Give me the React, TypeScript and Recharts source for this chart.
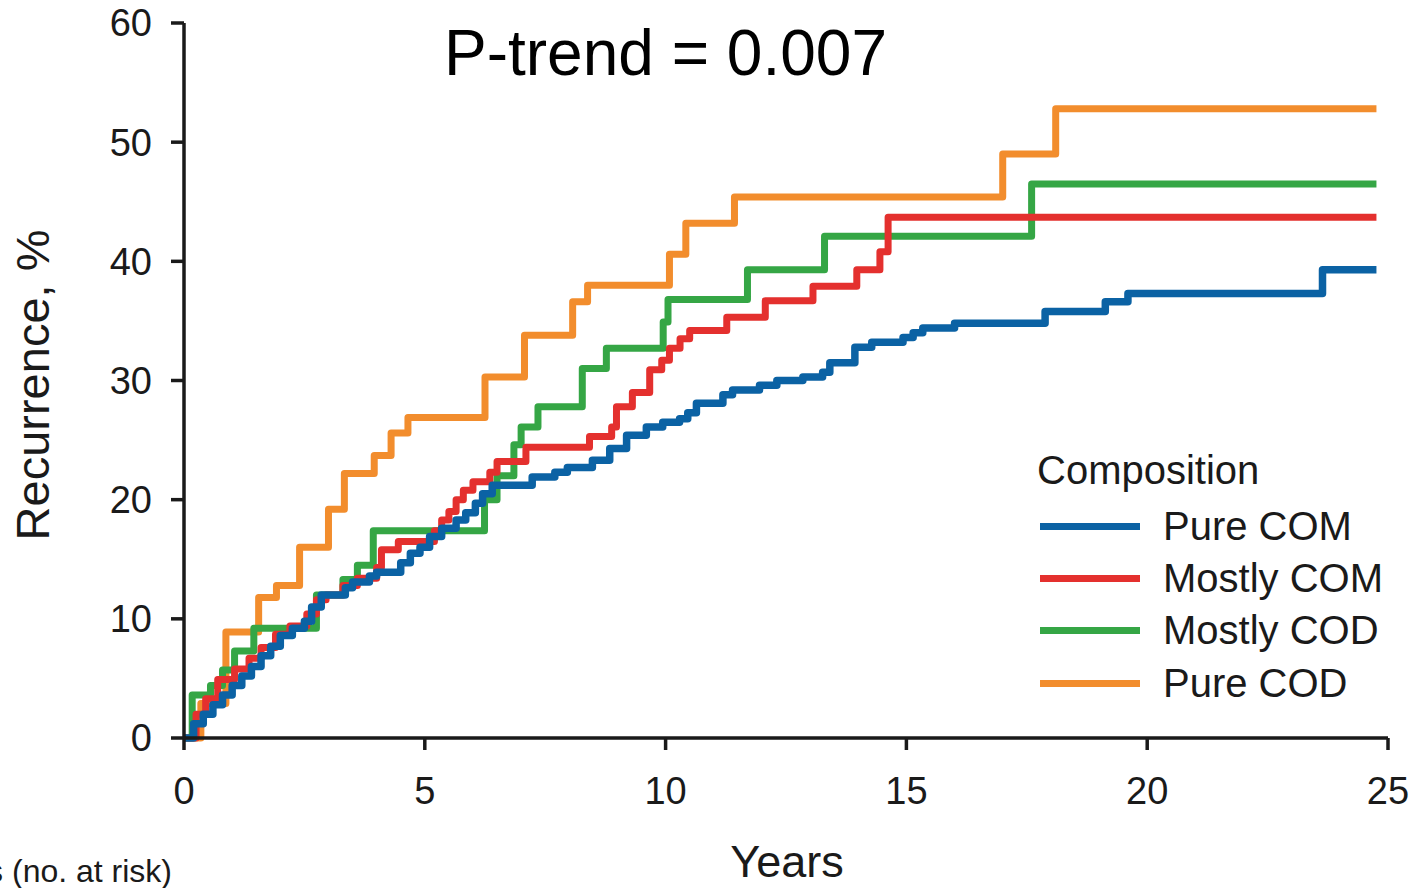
import { Legend, Line, LineChart, XAxis, YAxis } from 'recharts';

// Kaplan-Meier style step curves (years, % recurrence)
const pureComYears = [
	0, 0.2, 0.4, 0.6, 0.8, 1.0, 1.2, 1.4, 1.6, 1.8, 2.0, 2.25, 2.5, 2.65, 2.85,
	3.35, 3.5, 3.85, 4.0, 4.5, 4.7, 4.9, 5.1, 5.35, 5.65, 5.85, 6.05, 6.2, 6.4,
	7.23, 7.7, 7.96, 8.48, 8.84, 9.19, 9.6, 9.94, 10.29, 10.46, 10.64, 11.19,
	11.39, 11.95, 12.31, 12.85, 13.26, 13.41, 13.93, 14.28, 14.93, 15.14, 15.34,
	16.0, 17.88, 19.13, 19.6, 23.64, 24.76,
];
const pureComPct = [
	0, 1.2, 2.0, 2.8, 3.6, 4.4, 5.2, 6.0, 6.9, 7.7, 8.6, 9.2, 9.8, 11.0, 12.0,
	12.6, 13.1, 13.6, 13.9, 14.7, 15.5, 16.0, 16.9, 17.6, 18.3, 18.9, 19.7, 20.5,
	21.2, 21.9, 22.3, 22.7, 23.3, 24.3, 25.4, 26.1, 26.5, 26.8, 27.3, 28.1, 28.8,
	29.2, 29.6, 30.0, 30.3, 30.7, 31.5, 32.8, 33.2, 33.6, 34.0, 34.4, 34.8, 35.8,
	36.6, 37.3, 39.3, 39.3,
];

const mostlyComYears = [
	0, 0.25, 0.45, 0.7, 1.05, 1.35, 1.6, 1.9, 2.2, 2.55, 2.75, 2.95, 3.3, 3.6,
	4.0, 4.1, 4.45, 5.2, 5.35, 5.5, 5.65, 5.8, 6.0, 6.35, 6.5, 7.1, 8.42, 8.88,
	8.98, 9.31, 9.67, 9.92, 10.08, 10.3, 10.5, 11.27, 12.07, 13.06, 13.97, 14.45,
	14.62, 24.76,
];
const mostlyComPct = [
	0, 2.0, 3.3, 4.9, 5.8, 6.7, 7.6, 8.7, 9.4, 10.4, 11.6, 12.0, 12.8, 13.4,
	14.3, 15.8, 16.5, 17.4, 18.3, 19.0, 20.0, 20.8, 21.5, 22.3, 23.2, 24.4, 25.3,
	26.1, 27.8, 29.0, 30.9, 31.7, 32.7, 33.5, 34.2, 35.3, 36.7, 37.9, 39.3, 40.8,
	43.7, 43.7,
];

const mostlyCodYears = [
	0, 0.17, 0.55, 0.8, 1.05, 1.45, 2.75, 3.3, 3.6, 3.93, 6.24, 6.5, 6.85, 7.0,
	7.35, 8.27, 8.77, 9.95, 10.05, 11.7, 13.3, 17.6, 24.76,
];
const mostlyCodPct = [
	0, 3.6, 4.4, 5.7, 7.3, 9.2, 12.0, 13.3, 14.5, 17.4, 20.0, 22.0, 24.6, 26.1,
	27.8, 31.0, 32.7, 34.9, 36.8, 39.3, 42.1, 46.5, 46.5,
];

const pureCodYears = [
	0, 0.35, 0.87, 1.55, 1.92, 2.4, 3.0, 3.33, 3.95, 4.3, 4.65, 6.25, 7.07, 8.07,
	8.38, 10.08, 10.42, 11.43, 17.0, 18.1, 24.76,
];
const pureCodPct = [
	0, 2.9, 8.9, 11.8, 12.8, 16.0, 19.2, 22.2, 23.7, 25.6, 26.9, 30.3, 33.8, 36.6,
	38.0, 40.6, 43.2, 45.4, 49.0, 52.8, 52.8,
];

const seriesNames = ['Pure COM', 'Mostly COM', 'Mostly COD', 'Pure COD'];
const seriesColors = ['#0b62a4', '#e4302e', '#35a645', '#f28d2d'];
const xTicks = [0, 5, 10, 15, 20, 25];
const yTicks = [0, 10, 20, 30, 40, 50, 60];

const zip = (xs: number[], ys: number[]) => xs.map((t, i) => ({ t, y: ys[i] }));

const series = [
	zip(pureComYears, pureComPct),
	zip(mostlyComYears, mostlyComPct),
	zip(mostlyCodYears, mostlyCodPct),
	zip(pureCodYears, pureCodPct),
];

const font = '"Liberation Sans", Arial, sans-serif';
const ink = '#1a1a1a';

function LegendBox() {
	return (
		<div style={{ fontFamily: font, color: ink, textAlign: 'left' }}>
			<div style={{ fontSize: 40, lineHeight: '52px', marginLeft: 2, marginBottom: 4 }}>
				Composition
			</div>
			{seriesNames.map((name, i) => (
				<div
					key={name}
					style={{ display: 'flex', alignItems: 'center', height: 52.3, fontSize: 40 }}
				>
					<div style={{ width: 100, height: 7, background: seriesColors[i], marginLeft: 5 }} />
					<span style={{ marginLeft: 23 }}>{name}</span>
				</div>
			))}
		</div>
	);
}

export default function App() {
	// draw order: orange at the back, blue on top
	const order = [3, 2, 1, 0];
	return (
		<div>
			<style>{'body{margin:0}'}</style>
			<LineChart
				width={1414}
				height={888}
				margin={{ top: 23, right: 26, bottom: 0, left: 0 }}
				style={{ fontFamily: font }}
			>
				<XAxis
					type="number"
					dataKey="t"
					domain={[0, 25]}
					ticks={xTicks}
					height={150}
					tickSize={12}
					tickMargin={27}
					axisLine={{ stroke: ink, strokeWidth: 3.5 }}
					tickLine={{ stroke: ink, strokeWidth: 3.5 }}
					tick={{ fontSize: 38, fill: ink }}
					allowDuplicatedCategory={false}
				/>
				<YAxis
					type="number"
					domain={[0, 60]}
					ticks={yTicks}
					width={184}
					tickSize={13}
					tickMargin={19}
					axisLine={{ stroke: ink, strokeWidth: 3.5 }}
					tickLine={{ stroke: ink, strokeWidth: 3.5 }}
					tick={{ fontSize: 38, fill: ink }}
				/>
				{order.map((i) => (
					<Line
						key={seriesNames[i]}
						data={series[i]}
						dataKey="y"
						name={seriesNames[i]}
						type="stepAfter"
						stroke={seriesColors[i]}
						strokeWidth={i === 0 ? 7.5 : 7}
						strokeLinejoin="round"
						dot={false}
						activeDot={false}
						isAnimationActive={false}
					/>
				))}
				<Legend
					layout="horizontal"
					verticalAlign="middle"
					align="center"
					content={() => <LegendBox />}
					wrapperStyle={{ position: 'absolute', left: 1035, top: 444, width: 380 }}
				/>
				<text x={444} y={75} fontSize={64} fill="#000">
					P-trend = 0.007
				</text>
				<text
					x={0}
					y={0}
					fontSize={47}
					fill={ink}
					textAnchor="middle"
					transform="translate(49 385) rotate(-90)"
				>
					Recurrence, %
				</text>
				<text x={787} y={877} fontSize={45} fill={ink} textAnchor="middle">
					Years
				</text>
				<text x={172} y={882} fontSize={32} fill={ink} textAnchor="end">
					Years (no. at risk)
				</text>
			</LineChart>
		</div>
	);
}
